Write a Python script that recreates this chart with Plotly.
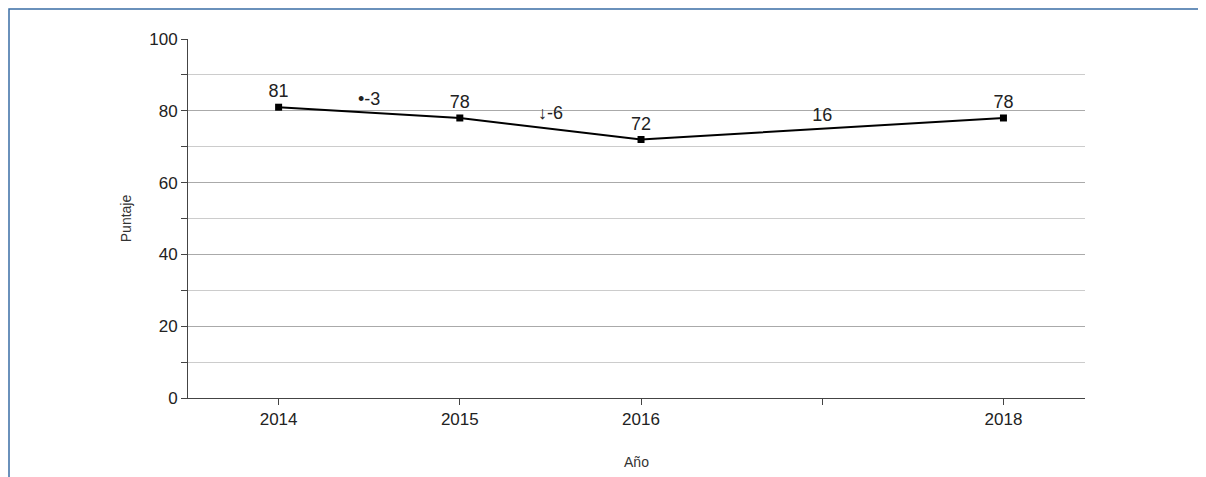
import plotly.graph_objects as go

# data
years = [2014, 2015, 2016, 2018]
puntaje = [81, 78, 72, 78]
tick_years = [2014, 2015, 2016, 2017, 2018]
tick_labels = ["2014", "2015", "2016", "", "2018"]
diff_x = [2014.5, 2015.5, 2017]
diff_y = [83, 79, 78.5]
diff_text = ["\u2022-3", "\u2193-6", "16"]

font = "Liberation Sans, Arial, sans-serif"

fig = go.Figure()
fig.add_trace(go.Scatter(
    x=years, y=puntaje, mode="lines+markers+text",
    line=dict(color="black", width=2),
    marker=dict(symbol="square", size=7, color="black"),
    text=[str(v) for v in puntaje], textposition="top center",
    textfont=dict(size=18, color="#222"), cliponaxis=False,
))
fig.add_trace(go.Scatter(
    x=diff_x, y=diff_y, mode="text", text=diff_text,
    textfont=dict(size=18, color="#222"),
))

fig.update_layout(
    width=1206, height=477, showlegend=False,
    paper_bgcolor="white", plot_bgcolor="white",
    margin=dict(l=180, r=129, t=31, b=87),
    font=dict(family=font, size=17, color="#222"),
    shapes=[dict(type="rect", xref="paper", yref="paper",
                 x0=-179 / 897, x1=(1196 - 180) / 897,
                 y0=-86 / 359, y1=1 + 30 / 359,
                 line=dict(color="#3a6ea5", width=1.5))],
)
fig.update_xaxes(
    range=[2013.5, 2018.45], tickvals=tick_years, ticktext=tick_labels,
    showgrid=False, showline=True, linecolor="#444", linewidth=1,
    ticks="outside", ticklen=6, tickcolor="#444",
    title=dict(text="Año", font=dict(size=14, color="#333"), standoff=28),
    zeroline=False,
)
fig.update_yaxes(
    range=[0, 100], tickvals=[0, 20, 40, 60, 80, 100],
    showgrid=True, gridcolor="#aaaaaa", gridwidth=1,
    minor=dict(dtick=10, showgrid=True, gridcolor="#cccccc", ticks="outside",
               ticklen=6, tickcolor="#444"),
    showline=True, linecolor="#444", linewidth=1,
    ticks="outside", ticklen=6, tickcolor="#444",
    title=dict(text="Puntaje", font=dict(size=14, color="#333"), standoff=14),
    zeroline=False,
)

fig.write_html("out.html")
